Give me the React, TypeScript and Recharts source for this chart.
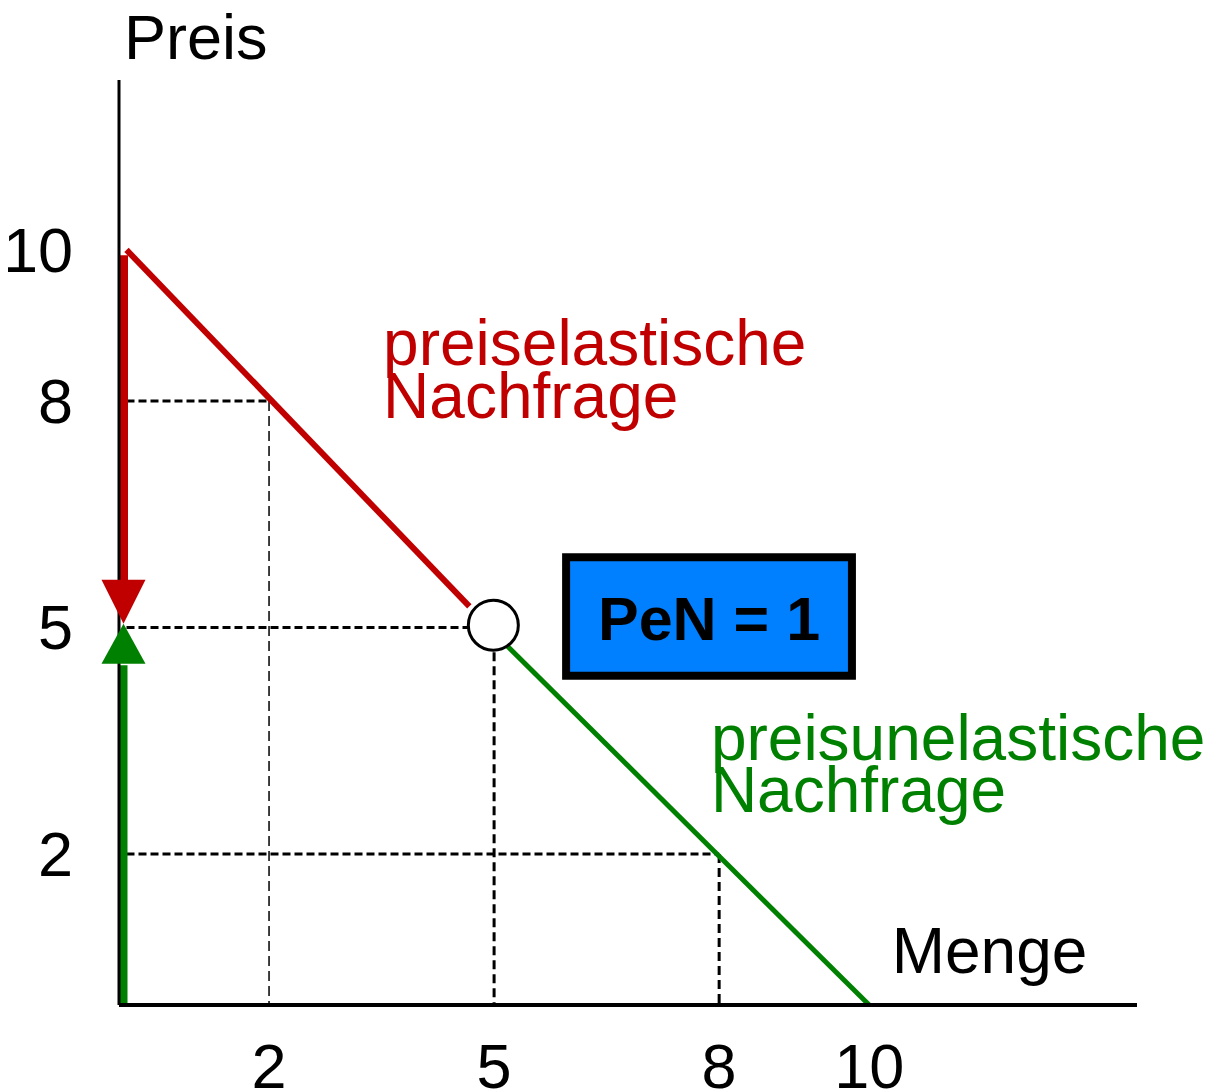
import React from 'react';
import { ComposedChart, Line, Scatter, XAxis, YAxis, ReferenceLine, ReferenceArea } from 'recharts';

// ---- data (quantity q, price p) ----
const xTicks = [2, 5, 8, 10];
const yTicks = [2, 5, 8, 10];
const xDomain = [0, 13.57];
const yDomain = [0, 12.25];

const elasticSegment = [{ q: 0.1, p: 10.0 }, { q: 4.67, p: 5.28 }];
const inelasticSegment = [{ q: 5.15, p: 4.78 }, { q: 10, p: 0 }];
const priceFallShaft = [{ q: 0.06, p: 9.93 }, { q: 0.06, p: 5.6 }];
const priceRiseShaft = [{ q: 0.06, p: 0 }, { q: 0.06, p: 4.5 }];
const arrowTip = [{ q: 0.06, p: 5.05 }];
const unitElasticPoint = [{ q: 4.99, p: 5.03 }];
const guidePoints = [{ q: 2, p: 8 }, { q: 5, p: 5 }, { q: 8, p: 2 }];
const guideStartQ = 0.1;
const circleEdge = 0.33;

const peBox = { x1: 5.96, x2: 9.77, y1: 4.36, y2: 5.93 };
const peText = 'PeN = 1';

const elasticLabelAt = [{ q: 3.52, p: 8.48 }];
const elasticLabel = ['preiselastische', 'Nachfrage'];
const inelasticLabelAt = [{ q: 7.89, p: 3.245 }];
const inelasticLabel = ['preisunelastische', 'Nachfrage'];
const xTitleAt = [{ q: 10.3, p: 0.42 }];
const xTitle = 'Menge';
const yTitle = 'Preis';

const RED = '#C00000';
const GREEN = '#008000';
const BLUE = '#0080FF';

const YTick = (props: any) => (
  <text x={props.x} y={props.y} dy={22} textAnchor="end" fontSize={63} fill="#000">
    {props.payload.value}
  </text>
);
const XTick = (props: any) => (
  <text x={props.x} y={props.y} dy={83} textAnchor="middle" fontSize={63} fill="#000">
    {props.payload.value}
  </text>
);

const multiText = (lines: string[], color: string, lh: number, size: number) => (props: any) => (
  <text x={props.cx} y={props.cy} fontSize={size} fill={color}>
    {lines.map((l, i) => (
      <tspan key={i} x={props.cx} dy={i === 0 ? 0 : lh}>{l}</tspan>
    ))}
  </text>
);

const TriDown = (props: any) => {
  const { cx, cy } = props;
  return <polygon points={`${cx},${cy} ${cx - 22},${cy - 44} ${cx + 22},${cy - 44}`} fill={RED} />;
};
const TriUp = (props: any) => {
  const { cx, cy } = props;
  return <polygon points={`${cx},${cy} ${cx - 22},${cy + 40} ${cx + 22},${cy + 40}`} fill={GREEN} />;
};
const Ring = (props: any) => (
  <circle cx={props.cx} cy={props.cy} r={25} fill="#fff" stroke="#000" strokeWidth={3} />
);

export default function App() {
  return (
    <div style={{ fontFamily: '"Liberation Sans", Arial, Helvetica, sans-serif', width: 1214, height: 1082 }}>
      <ComposedChart width={1214} height={1082} margin={{ top: 72, right: 85, bottom: 0, left: 0 }}>
        <XAxis
          type="number"
          dataKey="q"
          domain={xDomain}
          ticks={xTicks}
          height={85}
          tickLine={false}
          tickSize={0}
          tickMargin={0}
          axisLine={{ stroke: '#000', strokeWidth: 4 }}
          tick={<XTick />}
        />
        <YAxis
          type="number"
          dataKey="p"
          domain={yDomain}
          ticks={yTicks}
          width={111}
          tickLine={false}
          tickSize={0}
          tickMargin={46}
          axisLine={{ stroke: '#000', strokeWidth: 3 }}
          tick={<YTick />}
          label={(props: any) => {
            const vb = props.viewBox || { x: 0, y: 72, width: 111 };
            return (
              <text x={vb.x + vb.width + 5} y={vb.y - 21} fontSize={63} fill="#000">
                {yTitle}
              </text>
            );
          }}
        />

        {guidePoints.map((g, i) => (
          <ReferenceLine
            key={'h' + i}
            segment={[{ x: guideStartQ, y: g.p }, { x: i === 1 ? g.q - circleEdge : g.q, y: g.p }]}
            stroke="#000"
            strokeWidth={3}
            strokeDasharray="8 4"
          />
        ))}
        {guidePoints.map((g, i) => (
          <ReferenceLine
            key={'v' + i}
            segment={[{ x: g.q, y: i === 1 ? g.p - circleEdge : g.p }, { x: g.q, y: 0 }]}
            stroke="#000"
            strokeWidth={i === 0 ? 1.5 : 3}
            strokeDasharray={i === 0 ? '10 5' : '9 5'}
          />
        ))}

        <ReferenceArea
          x1={peBox.x1}
          x2={peBox.x2}
          y1={peBox.y1}
          y2={peBox.y2}
          fill={BLUE}
          fillOpacity={1}
          stroke="#000"
          strokeWidth={8}
          label={(props: any) => {
            const vb = props.viewBox;
            return (
              <text x={vb.x + vb.width / 2} y={vb.y + vb.height / 2} dy={23} textAnchor="middle" fontSize={61} fontWeight="bold" fill="#000">
                {peText}
              </text>
            );
          }}
        />

        <Line data={elasticSegment} dataKey="p" stroke={RED} strokeWidth={6} dot={false} isAnimationActive={false} />
        <Line data={inelasticSegment} dataKey="p" stroke={GREEN} strokeWidth={5} dot={false} isAnimationActive={false} />
        <Line data={priceFallShaft} dataKey="p" stroke={RED} strokeWidth={9} dot={false} isAnimationActive={false} />
        <Line data={priceRiseShaft} dataKey="p" stroke={GREEN} strokeWidth={8} dot={false} isAnimationActive={false} />
        <Scatter data={arrowTip} shape={<TriDown />} isAnimationActive={false} />
        <Scatter data={arrowTip} shape={<TriUp />} isAnimationActive={false} />
        <Scatter data={unitElasticPoint} shape={<Ring />} isAnimationActive={false} />

        <Scatter data={elasticLabelAt} shape={multiText(elasticLabel, RED, 53, 64)} isAnimationActive={false} />
        <Scatter data={inelasticLabelAt} shape={multiText(inelasticLabel, GREEN, 52, 64)} isAnimationActive={false} />
        <Scatter data={xTitleAt} shape={multiText([xTitle], '#000', 0, 64)} isAnimationActive={false} />
      </ComposedChart>
    </div>
  );
}
